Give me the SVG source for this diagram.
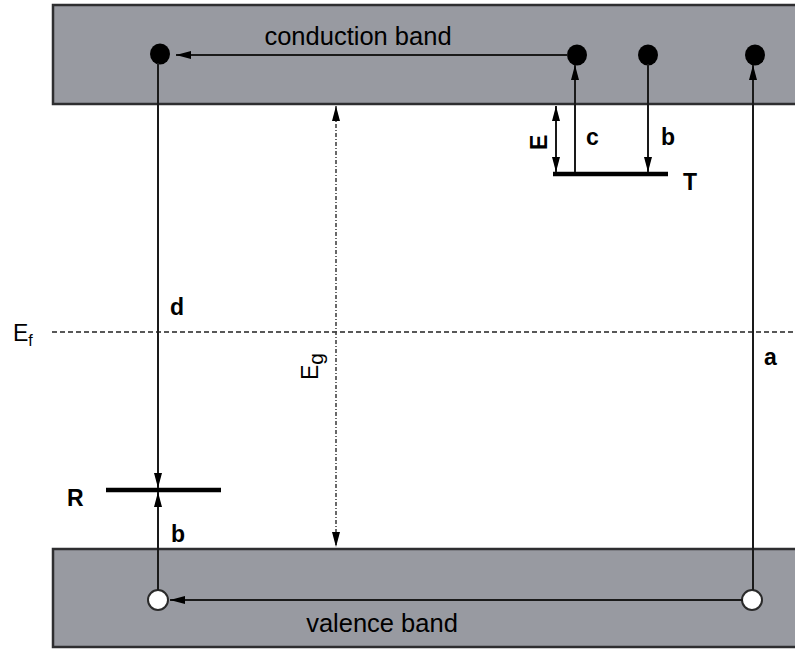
<svg xmlns="http://www.w3.org/2000/svg" width="795" height="650" viewBox="0 0 795 650">
  <style>
    .band { fill: #989aa1; stroke: #2e2e30; stroke-width: 2.5; }
    .ln { stroke: #1a1a1a; stroke-width: 2; fill: none; }
    .lvl { stroke: #000; stroke-width: 4.5; }
    .dash { stroke: #222; stroke-width: 1.5; stroke-dasharray: 5 3; fill: none; }
    .dashdot { stroke: #444; stroke-width: 1.6; stroke-dasharray: 4 2 1 2; fill: none; }
    .txt { font-family: "Liberation Sans", Arial, sans-serif; fill: #000; }
    .lbl { font-family: "Liberation Sans", Arial, sans-serif; font-size: 23px; font-weight: bold; fill: #000; }
    .el { fill: #000; }
    .hole { fill: #fff; stroke: #2a2a2a; stroke-width: 2; }
  </style>
  <defs>
    <marker id="ah" markerUnits="userSpaceOnUse" markerWidth="16" markerHeight="10" refX="15" refY="5" orient="auto-start-reverse">
      <path d="M0,1 L15,5 L0,9 Z" fill="#000"/>
    </marker>
  </defs>

  <!-- energy bands -->
  <g id="conduction-band">
    <rect class="band" x="53" y="5" width="760" height="99"/>
    <text class="txt" x="358" y="45" font-size="25.5" text-anchor="middle">conduction band</text>
  </g>
  <g id="valence-band">
    <rect class="band" x="53" y="549" width="760" height="98"/>
    <text class="txt" x="382" y="632" font-size="25.5" text-anchor="middle">valence band</text>
  </g>

  <!-- Fermi level -->
  <g id="fermi-level">
    <line class="dash" x1="52" y1="332" x2="795" y2="332"/>
    <text class="txt" x="13" y="341" font-size="23">E<tspan font-size="16" dy="5">f</tspan></text>
  </g>

  <!-- trap and recombination levels -->
  <g id="trap-level">
    <line class="lvl" x1="553" y1="174" x2="668" y2="174"/>
    <text class="lbl" x="683" y="190" font-size="24">T</text>
  </g>
  <g id="recombination-level">
    <line class="lvl" x1="106" y1="490" x2="221" y2="490"/>
    <text class="lbl" x="67" y="506" font-size="24">R</text>
  </g>

  <!-- electrons and holes -->
  <g id="electron-1"><ellipse class="el" cx="160" cy="54" rx="10" ry="10.5"/></g>
  <g id="electron-2"><ellipse class="el" cx="577" cy="55" rx="10" ry="10.5"/></g>
  <g id="electron-3"><ellipse class="el" cx="648" cy="55" rx="10" ry="10.5"/></g>
  <g id="electron-4"><ellipse class="el" cx="755" cy="55" rx="10" ry="10.5"/></g>
  <g id="hole-1"><circle class="hole" cx="158" cy="600" r="10"/></g>
  <g id="hole-2"><circle class="hole" cx="752" cy="600" r="10"/></g>

  <!-- transitions -->
  <g id="connectors">
    <line class="ln" x1="568" y1="55" x2="176" y2="55" marker-end="url(#ah)"/>
    <line class="ln" x1="158" y1="63" x2="158" y2="488" marker-end="url(#ah)"/>
    <line class="ln" x1="158" y1="590" x2="158" y2="492" marker-end="url(#ah)"/>
    <line class="ln" x1="743" y1="600" x2="170" y2="600" marker-end="url(#ah)"/>
    <line class="ln" x1="753" y1="590" x2="753" y2="65" marker-end="url(#ah)"/>
    <line class="ln" x1="575" y1="172" x2="575" y2="65" marker-end="url(#ah)"/>
    <line class="ln" x1="648" y1="64" x2="648" y2="172" marker-end="url(#ah)"/>
    <line class="ln" x1="556" y1="106" x2="556" y2="172" marker-start="url(#ah)" marker-end="url(#ah)"/>
    <line class="dashdot" x1="336" y1="106" x2="336" y2="547" marker-start="url(#ah)" marker-end="url(#ah)"/>
  </g>

  <!-- labels -->
  <g id="labels">
    <text class="lbl" x="170" y="315">d</text>
    <text class="lbl" x="171" y="542">b</text>
    <text class="lbl" x="764" y="365">a</text>
    <text class="lbl" x="586" y="145">c</text>
    <text class="lbl" x="661" y="145">b</text>
    <text class="txt" font-size="23" font-weight="bold" transform="translate(547,150) rotate(-90)">E</text>
    <text class="txt" font-size="23" transform="translate(318,380) rotate(-90)">E<tspan font-size="21" dy="5">g</tspan></text>
  </g>
</svg>
